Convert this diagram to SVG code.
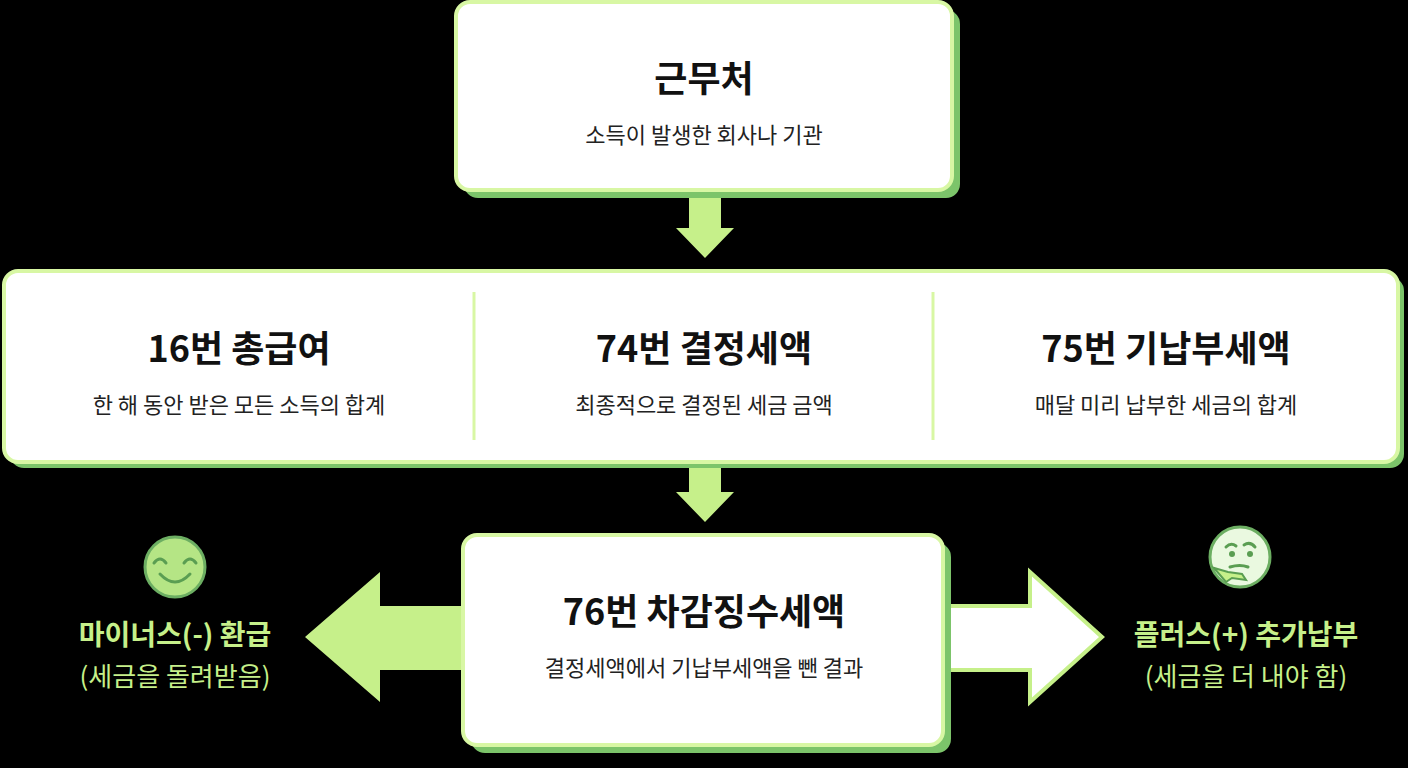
<svg xmlns="http://www.w3.org/2000/svg" width="1408" height="768" viewBox="0 0 1408 768">
<style>
.box{fill:#fff;stroke:#d8f7a4;stroke-width:4}
.sh{fill:#7cc46a}
.t{font-family:"Noto Sans CJK KR","Noto Sans",sans-serif;text-anchor:middle}
.h{font-size:36px;font-weight:700;fill:#111}
.s{font-size:22px;fill:#222}
.g{fill:#c6f08a}
</style>
<rect width="1408" height="768" fill="#000"/>
<g id="connectors">
<polygon class="g" points="689,192 721,192 721,228 734,228 705,258 676,228 689,228"/>
<polygon class="g" points="689,462 721,462 721,492 734,492 705,522 676,492 689,492"/>
<polygon class="g" points="466,606 380,606 380,572 305,637 380,702 380,670 466,670"/>
<polygon points="940,606 1030,606 1030,572 1102,637 1030,702 1030,670 940,670" fill="#fff" stroke="#c6f08a" stroke-width="4"/>
</g>
<g id="workplace">
<rect class="sh" x="464" y="10" width="496" height="188" rx="14"/>
<rect class="box" x="456" y="2" width="496" height="188" rx="14"/>
<text class="t h" x="704" y="92">근무처</text>
<text class="t s" x="704" y="143">소득이 발생한 회사나 기관</text>
</g>
<g id="items">
<rect class="sh" x="10" y="277" width="1394" height="191" rx="14"/>
<rect class="box" x="4" y="271" width="1394" height="191" rx="14"/>
<line x1="474" y1="292" x2="474" y2="440" stroke="#d8f7a4" stroke-width="3"/>
<line x1="933" y1="292" x2="933" y2="440" stroke="#d8f7a4" stroke-width="3"/>
<text class="t h" x="239" y="362">16번 총급여</text>
<text class="t s" x="239" y="413">한 해 동안 받은 모든 소득의 합계</text>
<text class="t h" x="704" y="362">74번 결정세액</text>
<text class="t s" x="704" y="413">최종적으로 결정된 세금 금액</text>
<text class="t h" x="1166" y="362">75번 기납부세액</text>
<text class="t s" x="1166" y="413">매달 미리 납부한 세금의 합계</text>
</g>
<g id="result">
<rect class="sh" x="471" y="543" width="480" height="210" rx="14"/>
<rect class="box" x="463" y="535" width="480" height="210" rx="14"/>
<text class="t h" x="704" y="625">76번 차감징수세액</text>
<text class="t s" x="704" y="676">결정세액에서 기납부세액을 뺀 결과</text>
</g>
<g id="refund">
<circle cx="175" cy="567" r="30" fill="#b5e585" stroke="#6cae62" stroke-width="3"/>
<path d="M154,563 q6,-8 12,0 M184,563 q6,-8 12,0 M160,574 q15,16 30,0" fill="none" stroke="#5a9e52" stroke-width="3" stroke-linecap="round"/>
<text class="t" x="175" y="645" font-size="28" font-weight="700" fill="#c6f08a">마이너스(-) 환급</text>
<text class="t" x="175" y="686" font-size="26" fill="#c6f08a">(세금을 돌려받음)</text>
</g>
<g id="additional">
<circle cx="1240" cy="557" r="30" fill="#eaf9e0" stroke="#6cae62" stroke-width="3"/>
<path d="M1226,547 q5,-5 10,-1 M1244,545 q6,-4 11,2 M1230,567 q10,-3 18,0" fill="none" stroke="#5a9e52" stroke-width="3" stroke-linecap="round"/>
<circle cx="1232" cy="554" r="3" fill="#5a9e52"/><circle cx="1250" cy="554" r="3" fill="#5a9e52"/>
<path d="M1214,568 l12,14 l6,-4 l14,2 l-4,-6 l-14,-2 z" fill="#c6f08a" stroke="#5a9e52" stroke-width="2"/>
<text class="t" x="1246" y="645" font-size="28" font-weight="700" fill="#c6f08a">플러스(+) 추가납부</text>
<text class="t" x="1246" y="686" font-size="26" fill="#c6f08a">(세금을 더 내야 함)</text>
</g>
</svg>
